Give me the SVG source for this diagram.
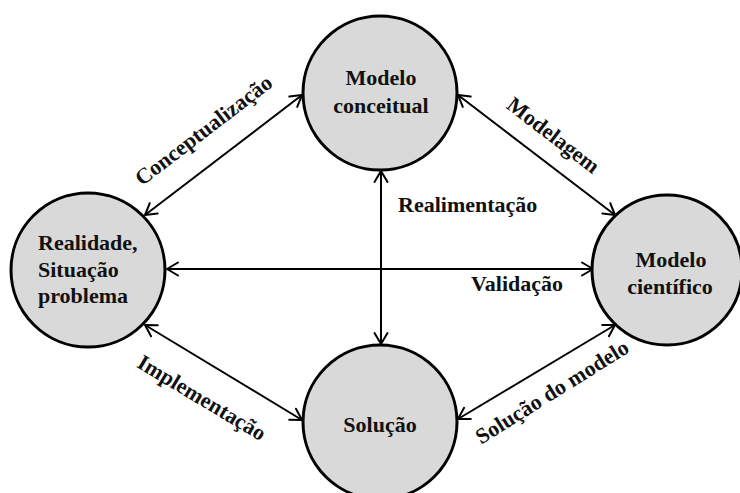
<svg xmlns="http://www.w3.org/2000/svg" width="740" height="493" viewBox="0 0 740 493">
  <style>
    .node { fill: #d9d9d9; stroke: #000; stroke-width: 3; }
    .t { font-family: "Liberation Serif", "Times New Roman", serif; font-weight: bold; font-size: 22px; fill: #111; }
    .c { text-anchor: middle; }
    .edge { stroke: #000; stroke-width: 2; fill: none; marker-start: url(#arr); marker-end: url(#arr); }
  </style>
  <defs>
    <marker id="arr" viewBox="-13 -8 15 16" refX="0" refY="0" markerWidth="15" markerHeight="16" markerUnits="userSpaceOnUse" orient="auto-start-reverse">
      <path d="M-11,-6.5 L0,0 L-11,6.5" fill="none" stroke="#000" stroke-width="2" stroke-linejoin="round" stroke-linecap="round"/>
    </marker>
  </defs>
  <rect width="740" height="493" fill="#fff"/>
  <g id="connectors">
    <line class="edge" x1="145" y1="215" x2="302" y2="95"/>
    <line class="edge" x1="458" y1="95" x2="615" y2="215"/>
    <line class="edge" x1="167" y1="269" x2="593" y2="269"/>
    <line class="edge" x1="381" y1="171" x2="381" y2="344"/>
    <line class="edge" x1="145" y1="325" x2="302" y2="420"/>
    <line class="edge" x1="458" y1="419" x2="615" y2="325"/>
  </g>
  <g id="labels">
    <text class="t c" transform="translate(208,136) rotate(-37.4)">Conceptualização</text>
    <text class="t c" transform="translate(549,141) rotate(37.4)">Modelagem</text>
    <text class="t" x="398" y="212">Realimentação</text>
    <text class="t" x="471" y="291">Validação</text>
    <text class="t c" transform="translate(198,404) rotate(31)">Implementação</text>
    <text class="t c" transform="translate(556,398) rotate(-32)">Solução do modelo</text>
  </g>
  <g id="modelo-conceitual">
    <circle class="node" cx="380" cy="93" r="77"/>
    <text class="t c" x="381" y="85">Modelo</text>
    <text class="t c" x="381" y="113">conceitual</text>
  </g>
  <g id="realidade">
    <circle class="node" cx="88" cy="270" r="77"/>
    <text class="t" x="38" y="250">Realidade,</text>
    <text class="t" x="38" y="277">Situação</text>
    <text class="t" x="38" y="303">problema</text>
  </g>
  <g id="modelo-cientifico">
    <circle class="node" cx="667" cy="270" r="75"/>
    <text class="t c" x="671" y="267">Modelo</text>
    <text class="t c" x="670" y="294">científico</text>
  </g>
  <g id="solucao">
    <circle class="node" cx="380" cy="422" r="77"/>
    <text class="t c" x="380" y="432">Solução</text>
  </g>
</svg>
